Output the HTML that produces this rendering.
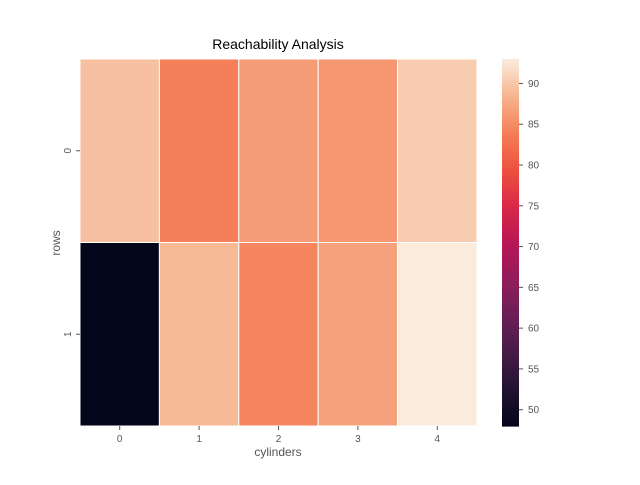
<!DOCTYPE html>
<html><head><meta charset="utf-8"><style>body{margin:0;background:#fff}svg{font-family:"Liberation Sans","DejaVu Sans",sans-serif}</style></head>
<body>
<svg id="c" width="640" height="480"></svg>
<script>
const rowLabels=["0","1"];
const colLabels=["0","1","2","3","4"];
const row0=[89.5,84,86.5,86,90.5];
const row1=[48,89,84.5,87,93];
const values=[row0,row1];
const cbTicks=[50,55,60,65,70,75,80,85,90];
const vmin=48,vmax=93;
const stops=["#03051A","#221331","#451C47","#6A1F56","#921C5B","#B91657","#D92847","#ED513E","#F47F58","#F6B48E","#FAEBDD"];
function hx(h){return [1,3,5].map(i=>parseInt(h.substr(i,2),16));}
function cmap(v){let t=Math.max(0,Math.min(1,(v-vmin)/(vmax-vmin)))*10;let i=Math.min(9,Math.floor(t)),f=t-i;const a=hx(stops[i]),b=hx(stops[i+1]);return "rgb("+a.map((x,k)=>Math.round(x+(b[k]-x)*f)).join(",")+")";}
const L=80,R=477,T=59,B=426;
const cw=(R-L)/colLabels.length,rh=(B-T)/rowLabels.length;
const xS=i=>L+i*cw,yS=j=>T+j*rh;
const svg=document.getElementById('c');const NS="http://www.w3.org/2000/svg";
function el(t,a,txt){const e=document.createElementNS(NS,t);for(const k in a)e.setAttribute(k,a[k]);if(txt!=null)e.textContent=txt;svg.appendChild(e);return e;}
values.forEach((r,j)=>r.forEach((v,i)=>{const e=el('rect',{x:xS(i),y:yS(j),width:cw,height:rh,fill:cmap(v),stroke:'#fff','stroke-width':1});

}));
colLabels.forEach((c,i)=>{const x=xS(i)+cw/2;el('line',{x1:x,x2:x,y1:B,y2:B+4,stroke:'#555'});const t=el('text',{x:x,y:B+16,'font-size':10,fill:'#555','text-anchor':'middle'},c);

});
rowLabels.forEach((c,j)=>{const y=yS(j)+rh/2;el('line',{x1:L-4,x2:L,y1:y,y2:y,stroke:'#555'});const t=el('text',{x:0,y:0,'font-size':10,fill:'#555','text-anchor':'middle',transform:`translate(71,${y}) rotate(-90)`},c);

});
let t=el('text',{x:278,y:49,'font-size':14,fill:'#000','text-anchor':'middle'},'Reachability Analysis');
t=el('text',{x:278,y:456,'font-size':12,fill:'#555','text-anchor':'middle'},'cylinders');
t=el('text',{x:0,y:0,'font-size':12,fill:'#555','text-anchor':'middle',transform:'translate(60,243) rotate(-90)'},'rows');
const cbX=502,cbW=17,N=120;
for(let k=0;k<N;k++){const v0=vmin+(vmax-vmin)*k/N;const y=B-(k+1)*(B-T)/N;el('rect',{x:cbX,y:y,width:cbW,height:(B-T)/N+0.6,fill:cmap(v0+(vmax-vmin)/N/2)});}
const cyS=v=>B-(v-vmin)/(vmax-vmin)*(B-T);
cbTicks.forEach(v=>{const y=cyS(v);el('line',{x1:cbX+cbW,x2:cbX+cbW+4,y1:y,y2:y,stroke:'#555'});const t=el('text',{x:528,y:y+3.5,'font-size':10,fill:'#555'},String(v));

});
</script>
</body></html>
